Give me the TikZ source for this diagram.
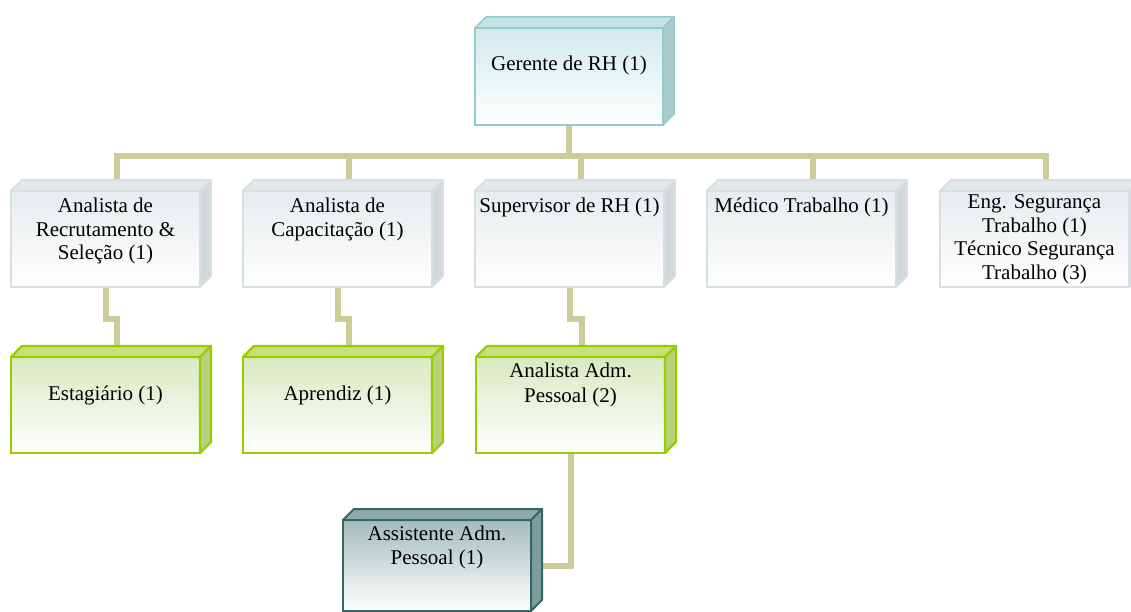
\documentclass[tikz,border=0pt]{standalone}
\usepackage{fontspec}
\setmainfont{Liberation Serif}
\usetikzlibrary{calc,backgrounds}

\definecolor{connC}{HTML}{CCCC99}
\definecolor{gerBorder}{HTML}{92CCCC}
\definecolor{gerTop}{HTML}{C4E3E3}
\definecolor{gerSide}{HTML}{A9CBCB}
\definecolor{gerFront}{HTML}{D2EAEC}
\definecolor{grayBorder}{HTML}{D6DFE2}
\definecolor{grayTop}{HTML}{E3E9EB}
\definecolor{graySide}{HTML}{D2DADC}
\definecolor{grayFront}{HTML}{E7ECEE}
\definecolor{greenBorder}{HTML}{99CC00}
\definecolor{greenTop}{HTML}{C6E17A}
\definecolor{greenSide}{HTML}{B6D07C}
\definecolor{greenFront}{HTML}{D9E9C0}
\definecolor{tealBorder}{HTML}{346767}
\definecolor{tealTop}{HTML}{8EA9A9}
\definecolor{tealSide}{HTML}{7E9C9C}
\definecolor{tealFront}{HTML}{A6BBBB}

\newcommand{\ftext}[4]{\parbox[c][#1][t]{#2}{\centering\vspace*{#3}\strut #4\par}}
\newcommand{\cubesides}[4]{%
  \filldraw[#2, fill=#3, line join=round] (#1.north west) -- ++(11,-11) -- ($(#1.north east)+(11,-11)$) -- (#1.north east) -- cycle;
  \filldraw[#2, fill=#4, line join=round] (#1.north east) -- ++(11,-11) -- ($(#1.south east)+(11,-11)$) -- (#1.south east) -- cycle;
}

\begin{document}
\begin{tikzpicture}[x=1pt,y=-1pt,
  conn/.style={draw=connC, line width=6pt},
  face/.style={inner sep=0pt, outer sep=0pt, anchor=north west, font=\fontsize{21}{23.5}\selectfont},
  gerB/.style={draw=gerBorder, line width=1.5pt},
  grayB/.style={draw=grayBorder, line width=1.8pt},
  greenB/.style={draw=greenBorder, line width=2.2pt},
  tealB/.style={draw=tealBorder, line width=2pt},
  gerbox/.style={face, gerB, top color=gerFront, middle color=gerFront!40!white, bottom color=white},
  graybox/.style={face, grayB, top color=grayFront, middle color=grayFront!45!white, bottom color=white},
  greenbox/.style={face, greenB, top color=greenFront, middle color=greenFront!40!white, bottom color=white},
  tealbox/.style={face, tealB, top color=tealFront, middle color=tealFront!40!white, bottom color=white}
]
\useasboundingbox (0,0) rectangle (1131,612);

% level 1
\node[gerbox] (g) at (475,28) {\ftext{97pt}{188pt}{26.5pt}{Gerente de RH (1)}};
\cubesides{g}{gerB}{gerTop}{gerSide}

% level 2
\node[graybox] (b1) at (11,191) {\ftext{96pt}{189pt}{5.5pt}{Analista de\\Recrutamento \&\\Seleção (1)}};
\node[graybox] (b2) at (243,191) {\ftext{96pt}{189pt}{5.5pt}{Analista de\\Capacitação (1)}};
\node[graybox] (b3) at (475,191) {\ftext{96pt}{189pt}{5.5pt}{Supervisor de RH (1)}};
\node[graybox] (b4) at (707,191) {\ftext{96pt}{189pt}{5.5pt}{Médico Trabalho (1)}};
\node[graybox] (b5) at (940,191) {\ftext{96pt}{189pt}{1.5pt}{Eng. Segurança\\Trabalho (1)\\Técnico Segurança\\Trabalho (3)}};
\foreach \n in {b1,b2,b3,b4,b5} {\cubesides{\n}{grayB}{grayTop}{graySide}}

% level 3
\node[greenbox] (e1) at (11,357) {\ftext{96pt}{189pt}{27.5pt}{Estagiário (1)}};
\node[greenbox] (e2) at (243,357) {\ftext{96pt}{189pt}{27.5pt}{Aprendiz (1)}};
\node[greenbox] (e3) at (476,357) {\ftext{96pt}{189pt}{4pt}{Analista Adm.\\[2pt]Pessoal (2)}};
\foreach \n in {e1,e2,e3} {\cubesides{\n}{greenB}{greenTop}{greenSide}}

% level 4
\node[tealbox] (as) at (343,520) {\ftext{91pt}{188pt}{4.5pt}{Assistente Adm.\\Pessoal (1)}};
\cubesides{as}{tealB}{tealTop}{tealSide}

% connectors
\begin{scope}[on background layer]
  \coordinate (busY) at (0,156);
  \foreach \i in {1,...,5} {\coordinate (t\i) at ($(b\i.north)+(11,-11)$);}
  \foreach \i in {1,2,3} {\coordinate (u\i) at ($(e\i.north)+(11,-11)$);}
  \draw[conn] (g.south) -- (g.south |- busY);
  \draw[conn] (t1) -- (t1 |- busY) -- (t5 |- busY) -- (t5);
  \foreach \i in {2,3,4} {\draw[conn] (t\i) -- (t\i |- busY);}
  \draw[conn] (b1.south) -- ++(0,32) -| (u1);
  \draw[conn] (b2.south) -- ++(0,32) -| (u2);
  \draw[conn] (b3.south) -- ++(0,32) -| (u3);
  \draw[conn] (e3.south) |- (as.east);
\end{scope}
\end{tikzpicture}
\end{document}
